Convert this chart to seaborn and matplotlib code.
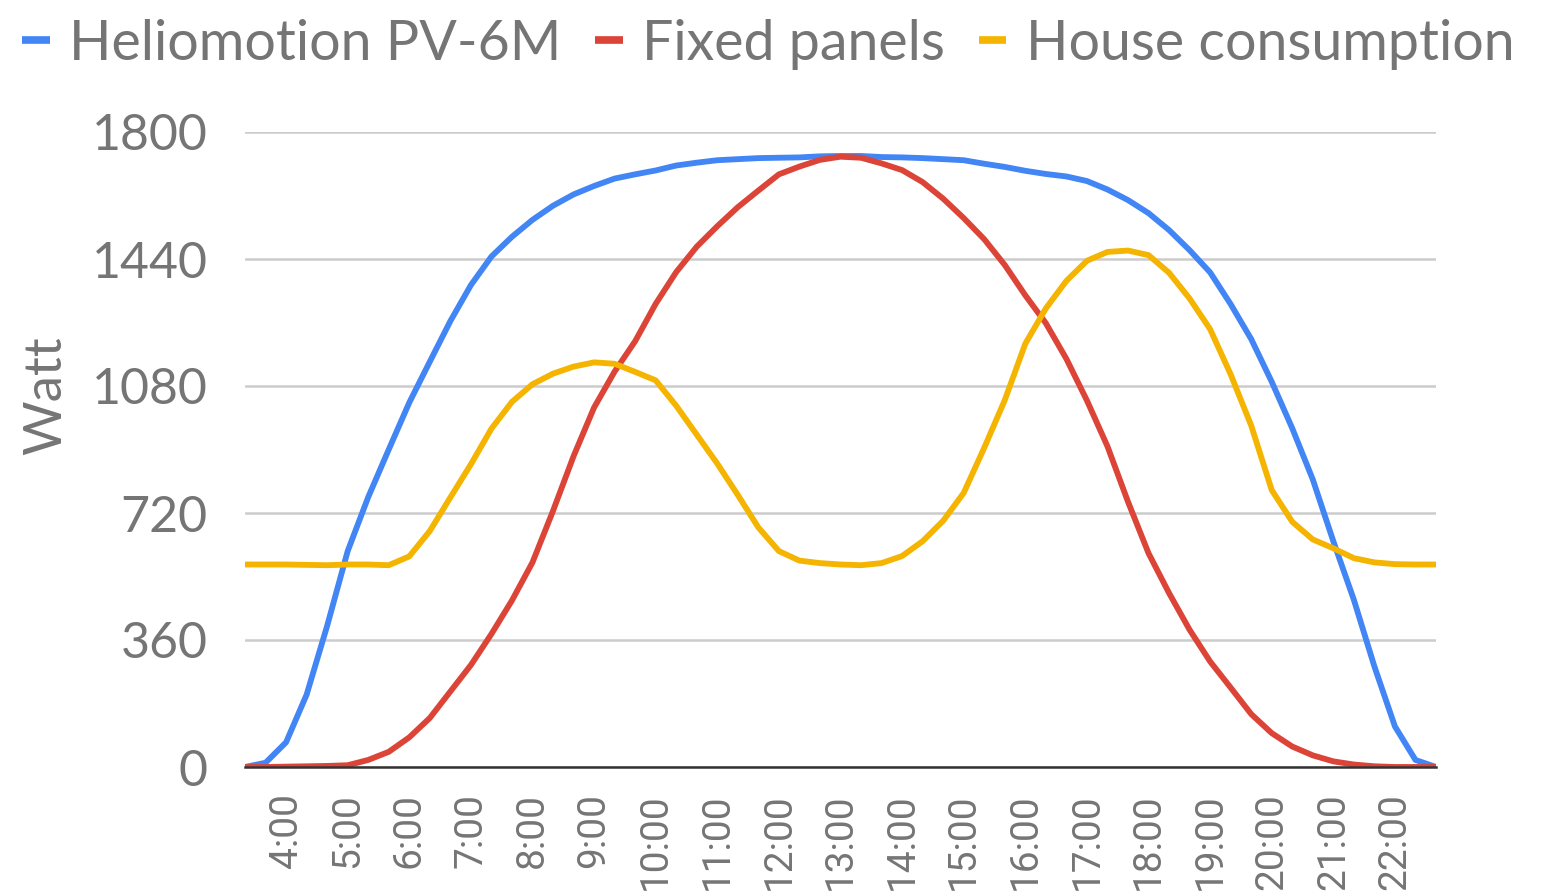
import pandas as pd
import matplotlib.pyplot as plt
import numpy as np
import seaborn as sns

# one reading every 20 minutes, from 3:20 to 22:40
minutes = list(range(200, 1361, 20))

heliomotion = [0, 12, 70, 205, 400, 612, 765, 900, 1033, 1149,
               1264, 1366, 1447, 1503, 1551, 1591, 1623, 1647, 1668, 1680,
               1691, 1705, 1713, 1720, 1723, 1726, 1727, 1728, 1731, 1732,
               1732, 1729, 1728, 1726, 1723, 1720, 1710, 1701, 1690, 1681,
               1674, 1661, 1637, 1607, 1570, 1522, 1465, 1402, 1312, 1213,
               1092, 960, 815, 640, 474, 285, 115, 20, 0]

fixed = [0, 0, 1, 2, 3, 5, 20, 43, 84, 139,
         214, 289, 377, 472, 580, 726, 881, 1019, 1121, 1207,
         1313, 1403, 1475, 1533, 1587, 1634, 1680, 1702, 1721, 1730,
         1727, 1711, 1692, 1658, 1611, 1556, 1496, 1423, 1337, 1258,
         1157, 1039, 909, 752, 606, 493, 389, 299, 225, 150,
         96, 58, 33, 16, 7, 2, 0, 0, 0]

house = [574, 574, 574, 573, 572, 574, 574, 572, 597, 669,
         764, 858, 959, 1035, 1085, 1115, 1135, 1147, 1143, 1120,
         1096, 1024, 942, 860, 771, 679, 612, 585, 578, 574,
         572, 578, 598, 640, 698, 777, 905, 1040, 1200, 1300,
         1378, 1435, 1460, 1464, 1451, 1401, 1328, 1241, 1113, 968,
         785, 695, 645, 620, 592, 580, 575, 574, 574]

series_names = ["Heliomotion PV-6M", "Fixed panels", "House consumption"]
colors = ["#4285F4", "#DB4437", "#F4B400"]
hour_ticks = list(range(4, 23))
y_ticks = [0, 360, 720, 1080, 1440, 1800]

df = pd.DataFrame({"hour": np.array(minutes) / 60,
                   series_names[0]: heliomotion,
                   series_names[1]: fixed,
                   series_names[2]: house})
df = df.melt(id_vars="hour", var_name="series", value_name="watt")

sns.set_theme(style="white")
plt.rcParams["font.family"] = ["Lato", "DejaVu Sans"]
grey = "#757575"

fig = plt.figure(figsize=(15.46, 8.96), dpi=100)
ax = fig.add_axes([245 / 1546, 1 - 767 / 896, (1436 - 245) / 1546,
                   (767 - 132) / 896])

sns.lineplot(data=df, x="hour", y="watt", hue="series",
             palette=colors, linewidth=4.2, ax=ax, legend=True)
for line in ax.get_lines():
    line.set_solid_joinstyle("round")

ax.set_xlim(minutes[0] / 60, minutes[-1] / 60)
ax.set_ylim(0, 1800)
ax.set_yticks(y_ticks)
ax.set_yticklabels([str(v) for v in y_ticks])
ax.set_xticks(hour_ticks)
ax.set_xticklabels([f"{h}:00" for h in hour_ticks], rotation=90)
ax.tick_params(axis="y", length=0, pad=27, labelsize=36, labelcolor=grey)
ax.tick_params(axis="x", length=0, pad=19, labelsize=28, labelcolor=grey)
for lab in ax.get_xticklabels():
    lab.set_family(["Roboto", "DejaVu Sans"])
ax.grid(axis="y", color="#cccccc", linewidth=1.8)
ax.set_axisbelow(True)
for side in ["top", "right", "left"]:
    ax.spines[side].set_visible(False)
ax.spines["bottom"].set_color("#333333")
ax.spines["bottom"].set_linewidth(1.8)
ax.spines["bottom"].set_zorder(3)

ax.set_xlabel("")
ax.set_ylabel("Watt", fontsize=38, color=grey)
ax.yaxis.set_label_coords(-0.147, 0.584)

handles, labels = ax.get_legend_handles_labels()
ax.get_legend().remove()
leg = fig.legend(handles, labels, loc="upper center", ncol=3,
                 bbox_to_anchor=(0.497, 1.035), frameon=False, fontsize=40,
                 handlelength=0.5, handletextpad=0.35, columnspacing=0.6,
                 labelcolor=grey)
for line in leg.get_lines():
    line.set_linewidth(5.5)
    line.set_solid_capstyle("butt")

plt.savefig("out.png", dpi=100)
